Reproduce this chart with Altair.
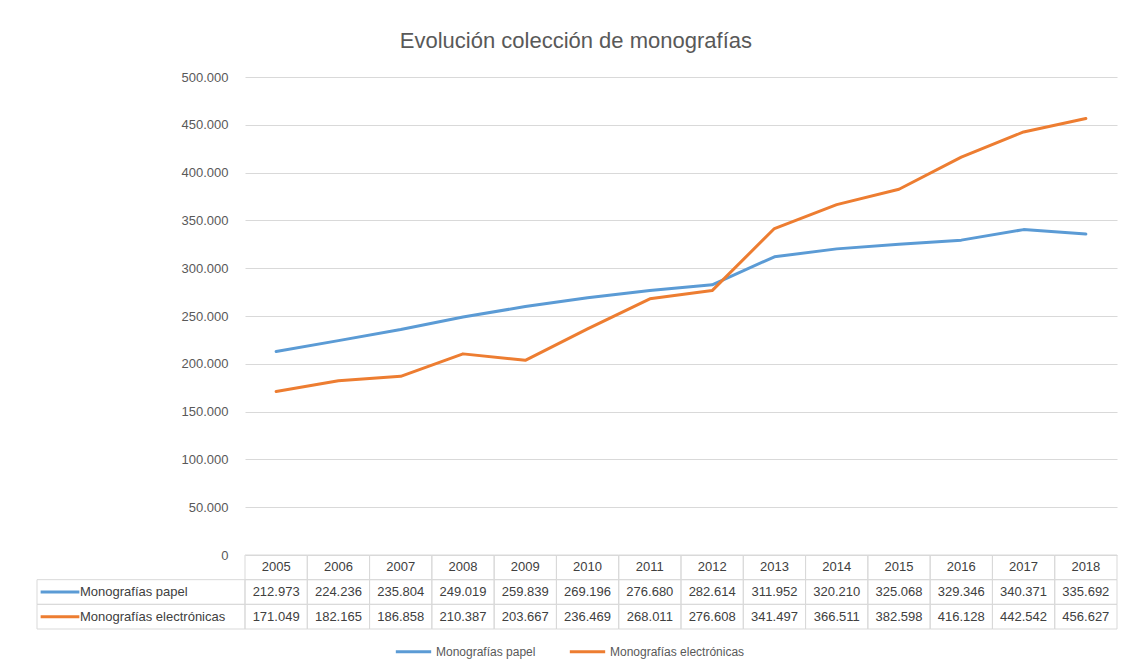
import altair as alt
import pandas as pd

# ---------------- data ----------------
years = list(range(2005, 2019))
papel = [212973, 224236, 235804, 249019, 259839, 269196, 276680,
         282614, 311952, 320210, 325068, 329346, 340371, 335692]
electronicas = [171049, 182165, 186858, 210387, 203667, 236469, 268011,
                276608, 341497, 366511, 382598, 416128, 442542, 456627]
series_names = ["Monografías papel", "Monografías electrónicas"]
colors = ["#5B9BD5", "#ED7D31"]
y_ticks = list(range(0, 500001, 50000))
title_text = "Evolución colección de monografías"

FONT = "Liberation Sans"
GRAY = "#595959"
TXT = "#404040"
GRID = "#d9d9d9"

PW, PH = 872, 478     # plot area
LW, TH = 208, 74      # label column width, table height


def fmt(v):
    return f"{v:,}".replace(",", ".")


long = pd.DataFrame({
    "year": years * 2,
    "serie": [series_names[0]] * len(years) + [series_names[1]] * len(years),
    "valor": papel + electronicas,
})

row_keys = ["Año", series_names[0], series_names[1]]
table = pd.DataFrame({
    "year": years * 3,
    "fila": ["Año"] * len(years) + [series_names[0]] * len(years) + [series_names[1]] * len(years),
    "texto": [str(y) for y in years] + [fmt(v) for v in papel] + [fmt(v) for v in electronicas],
})
label_df = pd.DataFrame({"serie": series_names, "fila": series_names, "col": ["l", "l"]})

color_scale = alt.Scale(domain=series_names, range=colors)
num_expr = "replace(format(datum.value, ','), regexp(',', 'g'), '.')"

# ---------------- line chart ----------------
line = alt.Chart(long).mark_line(strokeWidth=3, strokeCap="round", strokeJoin="round").encode(
    x=alt.X("year:O", axis=None, scale=alt.Scale(type="point", padding=0.5)),
    y=alt.Y("valor:Q",
            scale=alt.Scale(domain=[0, 500000], nice=False),
            axis=alt.Axis(values=y_ticks, labelExpr=num_expr, title=None, domain=False,
                          ticks=False, grid=True, gridColor=GRID, labelColor=GRAY,
                          labelFontSize=13, labelFont=FONT, labelPadding=17)),
    color=alt.Color("serie:N", scale=color_scale, sort=series_names,
                    legend=alt.Legend(title=None, orient="none", legendX=149, legendY=555,
                                      direction="horizontal", symbolType="stroke",
                                      symbolStrokeWidth=3, symbolSize=1250,
                                      labelFontSize=12, labelFont=FONT, labelColor=GRAY,
                                      labelOffset=3, columnPadding=27)),
).properties(width=PW, height=PH)

spacer = alt.Chart(pd.DataFrame({"v": [0]})).mark_point(opacity=0).encode(
    x=alt.value(0), y=alt.value(0)
).properties(width=LW, height=PH)

# ---------------- label column ----------------
lx = alt.X("col:N", axis=None, scale=alt.Scale(paddingInner=0, paddingOuter=0))
ly = alt.Y("fila:N", axis=None, scale=alt.Scale(domain=row_keys, paddingInner=0, paddingOuter=0))
lbase = alt.Chart(label_df)
l_cells = lbase.mark_rect(fillOpacity=0, stroke=GRID, strokeWidth=1).encode(x=lx, y=ly)
l_swatch = lbase.mark_point(shape="stroke", size=1500, strokeWidth=3, filled=False,
                            opacity=1, xOffset=-81).encode(
    x=lx, y=ly, color=alt.Color("serie:N", scale=color_scale, legend=None))
l_text = lbase.mark_text(align="left", dx=-61, fontSize=13, font=FONT, color=TXT).encode(
    x=lx, y=ly, text="serie:N")
labels = alt.layer(l_cells, l_swatch, l_text).properties(width=LW, height=TH)

# ---------------- data table ----------------
tx = alt.X("year:O", axis=None, scale=alt.Scale(paddingInner=0, paddingOuter=0))
ty = alt.Y("fila:N", axis=None, scale=alt.Scale(domain=row_keys, paddingInner=0, paddingOuter=0))
tbase = alt.Chart(table)
t_cells = tbase.mark_rect(fillOpacity=0, stroke=GRID, strokeWidth=1).encode(x=tx, y=ty)
t_text = tbase.mark_text(fontSize=13, font=FONT, color=TXT).encode(x=tx, y=ty, text="texto:N")
tabla = alt.layer(t_cells, t_text).properties(width=PW, height=TH)

chart = alt.concat(
    spacer, line, labels, tabla, columns=2, spacing=0, bounds="flush"
).resolve_scale(
    color="independent", x="independent", y="independent"
).properties(
    title=alt.Title(title_text, fontSize=22, font=FONT, color=GRAY, fontWeight="normal",
                    anchor="middle", offset=18),
    padding={"left": 26, "top": 22, "right": 5, "bottom": 5},
    background="white",
).configure_view(stroke=None)

chart.save("out.html", embed_options={"renderer": "svg", "actions": False})
